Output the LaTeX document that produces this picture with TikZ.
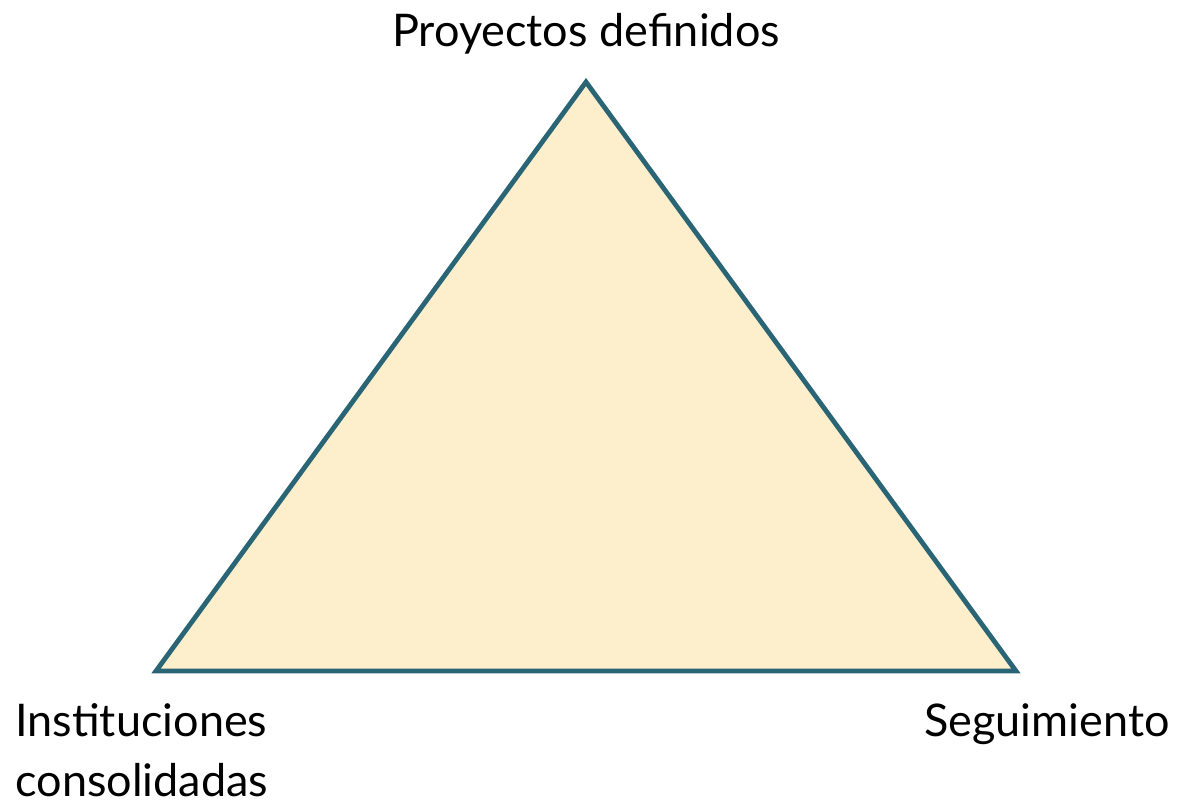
\documentclass[tikz,border=0pt]{standalone}
\usepackage{fontspec}
\setmainfont{Lato}
\definecolor{triline}{HTML}{2A6576}
\definecolor{trifill}{HTML}{FDEFCC}
\tikzset{
  label text/.style={inner sep=0pt, font=\fontsize{22.5}{30}\selectfont},
}
\begin{document}
\begin{tikzpicture}[x=0.5pt,y=-0.5pt]
\useasboundingbox (0,0) rectangle (1179,805);
\coordinate (top) at (586,82);
\coordinate (left) at (156,671);
\coordinate (right) at (1016,671);
\draw[triline, fill=trifill, line width=2.4pt, line join=miter] (top) -- (right) -- (left) -- cycle;
\node[label text, anchor=base] (proyectos) at (586,46) {Proyectos definidos};
\node[label text, anchor=base west, align=left] (instituciones) at (15,796) {Instituciones\\consolidadas};
\node[label text, anchor=base east] (seguimiento) at (1170,736) {Seguimiento};
\end{tikzpicture}
\end{document}
